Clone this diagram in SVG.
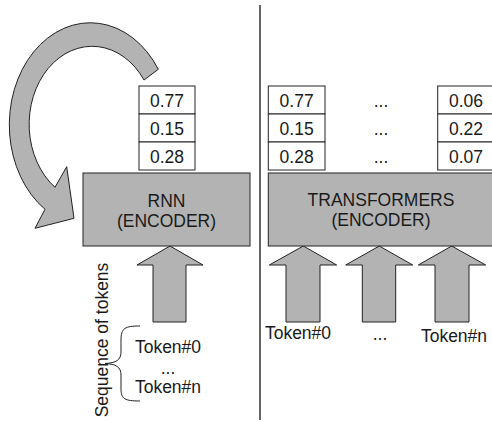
<svg xmlns="http://www.w3.org/2000/svg" width="492" height="422" viewBox="0 0 492 422">
<style>
.g{fill:#b3b3b3;stroke:#222;stroke-width:1}
.w{fill:#fff;stroke:#222;stroke-width:1}
.t{font-family:"Liberation Sans",Arial,sans-serif;font-size:17.5px;fill:#1a1a1a;text-anchor:middle}
.br{fill:none;stroke:#222;stroke-width:1}
</style>
<rect width="492" height="422" fill="#fff"/>
<line x1="260" y1="5" x2="260" y2="420" stroke="#666" stroke-width="2"/>
<g id="connectors">
<path id="loop" class="g" d="M158.3,69.3 A81,102 0 1 0 45,209.3 L35,228.3 L74,218.3 L66.7,166.7 L55,187.3 A63,78 0 1 1 144,80 Z"/>
<polygon id="arrow-rnn" class="g" points="170,246 203,265 186,265 186,322 153,322 153,265 137,265"/>
<polygon id="arrow-t0" class="g" points="303.3,246 336.7,265 320,265 320,322 286,322 286,265 269.3,265"/>
<polygon id="arrow-t1" class="g" points="379.3,246 412.7,265 395.7,265 395.7,322 362.3,322 362.3,265 345.7,265"/>
<polygon id="arrow-tn" class="g" points="451.7,246 485.7,265 469,265 469,322 435,322 435,265 418.3,265"/>
</g>
<g id="rnn">
<rect class="g" x="83" y="173" width="167" height="73"/>
<text class="t" x="166.5" y="206.5">RNN</text>
<text class="t" x="166.5" y="226.5">(ENCODER)</text>
</g>
<g id="rnn-vector">
<rect class="w" x="139" y="86" width="56" height="28"/>
<rect class="w" x="139" y="114" width="56" height="28"/>
<rect class="w" x="139" y="142" width="56" height="28"/>
<text class="t" x="167" y="106.5">0.77</text>
<text class="t" x="167" y="134.5">0.15</text>
<text class="t" x="167" y="162.5">0.28</text>
</g>
<g id="transformers">
<rect class="g" x="268.3" y="173" width="226" height="73"/>
<text class="t" x="381" y="206">TRANSFORMERS</text>
<text class="t" x="381" y="226">(ENCODER)</text>
</g>
<g id="t-vector-0">
<rect class="w" x="268.3" y="86" width="56.7" height="28"/>
<rect class="w" x="268.3" y="114" width="56.7" height="28"/>
<rect class="w" x="268.3" y="142" width="56.7" height="28"/>
<text class="t" x="296.6" y="106.5">0.77</text>
<text class="t" x="296.6" y="134.5">0.15</text>
<text class="t" x="296.6" y="162.5">0.28</text>
</g>
<g id="t-vector-dots">
<text class="t" x="381" y="106.5">...</text>
<text class="t" x="381" y="134.5">...</text>
<text class="t" x="381" y="162.5">...</text>
</g>
<g id="t-vector-n">
<rect class="w" x="437.7" y="86" width="57" height="28"/>
<rect class="w" x="437.7" y="114" width="57" height="28"/>
<rect class="w" x="437.7" y="142" width="57" height="28"/>
<text class="t" x="466" y="106.5">0.06</text>
<text class="t" x="466" y="134.5">0.22</text>
<text class="t" x="466" y="162.5">0.07</text>
</g>
<g id="rnn-tokens">
<text class="t" x="168" y="353.3">Token#0</text>
<text class="t" x="168" y="373.5">...</text>
<text class="t" x="168" y="393.3">Token#n</text>
<path class="br" d="M140,326 C125,326 121,328 121,340 L121,352 C121,360 116,363 105,363.5 C116,364 121,367 121,375 L121,389 C121,399 125,401 140,401"/>
<text class="t" transform="translate(107.5,340) rotate(-90)" x="0" y="0">Sequence of tokens</text>
</g>
<g id="t-tokens">
<text class="t" x="298" y="339">Token#0</text>
<text class="t" x="380" y="340">...</text>
<text class="t" x="454" y="341.7">Token#n</text>
</g>
</svg>
